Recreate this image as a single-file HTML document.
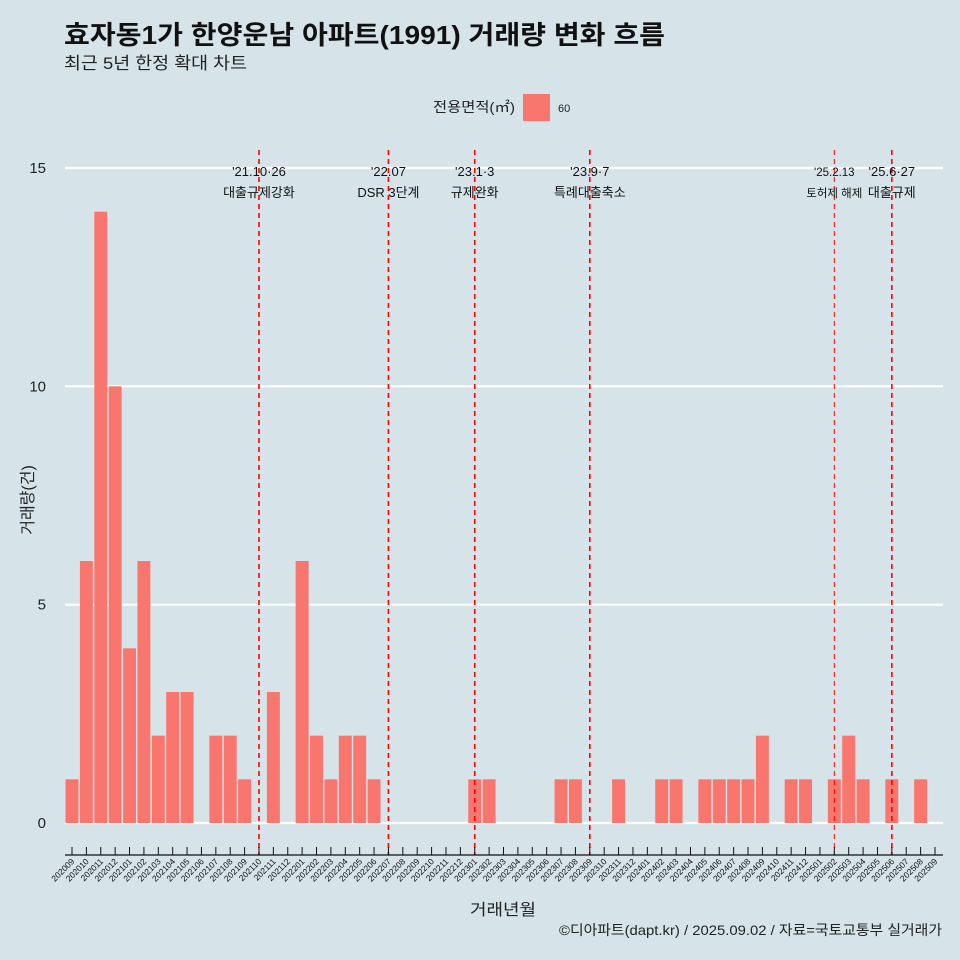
<!DOCTYPE html>
<html><head><meta charset="utf-8"><style>
body{margin:0;background:#d6e4ea;}
svg{display:block;font-family:"Liberation Sans","Noto Sans CJK KR",sans-serif;}
</style></head><body>
<svg id="c" width="960" height="960">
<rect width="960" height="960" fill="#d6e4ea"/>
<text x="64" y="44" font-size="26" font-weight="bold" fill="#111" textLength="601" lengthAdjust="spacingAndGlyphs">효자동1가 한양운남 아파트(1991) 거래량 변화 흐름</text>
<text x="64" y="69" font-size="17" fill="#222" textLength="183" lengthAdjust="spacingAndGlyphs">최근 5년 한정 확대 차트</text>
<text x="515" y="112" font-size="14" fill="#222" text-anchor="end" textLength="82" lengthAdjust="spacingAndGlyphs">전용면적(㎡)</text>
<rect x="523" y="94" width="27" height="27" fill="#f8766d"/>
<text x="558" y="112" font-size="11" fill="#222">60</text>
<text transform="translate(33,500) rotate(-90)" font-size="16" fill="#222" text-anchor="middle">거래량(건)</text>
<text x="470" y="915" font-size="16" fill="#222" textLength="66" lengthAdjust="spacingAndGlyphs">거래년월</text>
<text x="559" y="935" font-size="14" fill="#222" textLength="383" lengthAdjust="spacingAndGlyphs">©디아파트(dapt.kr) / 2025.09.02 / 자료=국토교통부 실거래가</text>
<g id="grid"></g><g id="bars"></g><g id="events"></g><g id="xaxis"></g>
</svg>
<script>
const categories=[];
for(let y=2020,m=9;!(y===2025&&m===10);){categories.push(y+String(m).padStart(2,'0'));m++;if(m>12){m=1;y++;}}
const values=[1,6,14,10,4,6,2,3,3,0,2,2,1,0,3,0,6,2,1,2,2,1,0,0,0,0,0,0,1,1,0,0,0,0,1,1,0,0,1,0,0,1,1,0,1,1,1,1,2,0,1,1,0,1,2,1,0,1,0,1,0];
const yTicks=[0,5,10,15];
const eventMonths=['202110','202207','202301','202309','202502','202506'];
const eventDates=["'21.10·26","'22.07","'23.1·3","'23.9·7","'25.2.13","'25.6·27"];
const eventNames=["대출규제강화","DSR 3단계","규제완화","특례대출축소","토허제 해제","대출규제"];
const NS='http://www.w3.org/2000/svg';
const x0=72,x1=935,y0=823,yTop=168;
const xs=i=>x0+i*(x1-x0)/(categories.length-1);
const ys=v=>y0-v*(y0-yTop)/15;
const bw=(x1-x0)/(categories.length-1)*0.9;
function mk(t,a,p){const e=document.createElementNS(NS,t);for(const k in a)e.setAttribute(k,a[k]);p.appendChild(e);return e;}
const G=document.getElementById('grid');
yTicks.forEach(v=>{
 const l=mk('line',{x1:65,x2:943,y1:ys(v),y2:ys(v),stroke:'#fff','stroke-width':2.2},G);
 
 
 const t=mk('text',{x:46,y:ys(v)+5,'font-size':15,fill:'#222','text-anchor':'end'},G);
 t.textContent=v;
 
 
});
const B=document.getElementById('bars');
values.forEach((v,i)=>{if(!v)return;
 const r=mk('rect',{x:xs(i)-bw/2,y:ys(v),width:bw,height:ys(0)-ys(v),fill:'#f8766d'},B);
 
 
});
const E=document.getElementById('events');
eventMonths.forEach((m,k)=>{
 const i=categories.indexOf(m);const x=xs(i);const thin=m==='202502';
 const l=mk('line',{x1:x,x2:x,y1:150,y2:855,stroke:'#ff0000','stroke-width':thin?1:1.6,'stroke-dasharray':'5,4'},E);
 
 
 const fs=thin?11.5:13;
 const t1=mk('text',{x:x,y:176,'font-size':fs,fill:'#111','text-anchor':'middle'},E);t1.textContent=eventDates[k];
 
 
 const t2=mk('text',{x:x,y:197,'font-size':fs,fill:'#111','text-anchor':'middle'},E);t2.textContent=eventNames[k];
 
 
});
const X=document.getElementById('xaxis');
const ax=mk('line',{x1:65,x2:943,y1:855,y2:855,stroke:'#111','stroke-width':1.2},X);


categories.forEach((c,i)=>{
 const x=xs(i);
 const tk=mk('line',{x1:x,x2:x,y1:847,y2:855,stroke:'#111','stroke-width':1},X);
 
 
 const t=mk('text',{transform:`translate(${x+3},${862}) rotate(-45)`,'font-size':8.5,fill:'#111','text-anchor':'end'},X);
 t.textContent=c;
 
 
});
</script>
</body></html>
